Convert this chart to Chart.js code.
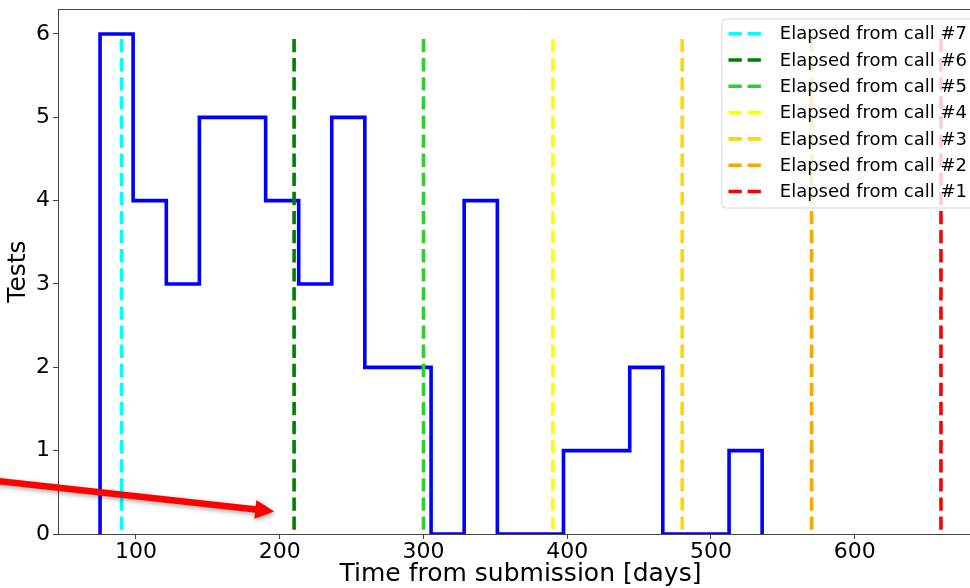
<!DOCTYPE html>
<html>
<head>
<meta charset="utf-8">
<script src="https://cdn.jsdelivr.net/npm/chart.js@4.4.0/dist/chart.umd.min.js"></script>
<style>
  html, body { margin: 0; padding: 0; background: #fff; overflow: hidden; }
  #wrap { width: 990px; height: 588px; }
</style>
</head>
<body>
<div id="wrap"><canvas id="chart" width="990" height="588"></canvas></div>
<script>
// Histogram of tests by time since submission
const binEdges = [75.0, 98.0, 121.1, 144.1, 167.1, 190.2, 213.2, 236.2, 259.2, 282.3, 305.3,
                  328.3, 351.4, 374.4, 397.4, 420.5, 443.5, 466.5, 489.5, 512.6, 535.6];
const testCounts = [6, 4, 3, 5, 5, 4, 3, 5, 2, 2, 0, 4, 0, 0, 1, 1, 2, 0, 0, 1];

// Reference lines: days elapsed since each call
const callLabels = ['Elapsed from call #7', 'Elapsed from call #6', 'Elapsed from call #5',
                    'Elapsed from call #4', 'Elapsed from call #3', 'Elapsed from call #2',
                    'Elapsed from call #1'];
const callDays = [90, 210, 300, 390, 480, 570, 660];
const callColors = ['#00ffff', '#008000', '#32cd32', '#ffff00', '#ffd700', '#ffa500', '#ff0000'];
const callLineTop = 5.94;

const xTicks = [100, 200, 300, 400, 500, 600];
const yTicks = [0, 1, 2, 3, 4, 5, 6];

// Highlight arrow, in data units
const arrowFrom = { x: 0, y: 0.643 };
const arrowTo = { x: 196.2, y: 0.271 };

const FONT = '"DejaVu Sans", "Liberation Sans", sans-serif';
const AXIS = '#444';
const LW = 3.6;
const DASH = [13.3, 5.8];

// step outline of the histogram
const outline = [{ x: binEdges[0], y: 0 }];
testCounts.forEach((c, i) => {
  outline.push({ x: binEdges[i], y: c });
  outline.push({ x: binEdges[i + 1], y: c });
});
outline.push({ x: binEdges[binEdges.length - 1], y: 0 });

const datasets = [{
  label: 'Tests',
  data: outline,
  borderColor: '#0000ff',
  borderWidth: LW,
  pointRadius: 0,
  fill: false,
  tension: 0,
  borderJoinStyle: 'miter',
  borderCapStyle: 'butt',
  order: 10
}];
callDays.forEach((d, i) => {
  datasets.push({
    label: callLabels[i],
    data: [{ x: d, y: callLineTop }, { x: d, y: 0 }],
    borderColor: callColors[i],
    borderWidth: LW,
    borderDash: DASH,
    borderCapStyle: 'butt',
    pointRadius: 0,
    fill: false,
    order: 1
  });
});

// top and right frame lines
const framePlugin = {
  id: 'frame',
  beforeDatasetsDraw(chart) {
    const { ctx, chartArea: a } = chart;
    ctx.save();
    ctx.strokeStyle = AXIS;
    ctx.lineWidth = 1;
    ctx.beginPath();
    ctx.moveTo(a.left, Math.round(a.top) + 0.5);
    ctx.lineTo(a.right, Math.round(a.top) + 0.5);
    ctx.lineTo(a.right, a.bottom);
    ctx.stroke();
    ctx.restore();
  }
};

// legend box in the upper right of the plot
const legendPlugin = {
  id: 'callLegend',
  afterDatasetsDraw(chart) {
    const { ctx, chartArea: a } = chart;
    ctx.save();
    ctx.font = '18px ' + FONT;
    let tw = 0;
    callLabels.forEach(t => { tw = Math.max(tw, ctx.measureText(t).width); });
    const rowH = 26.3;
    const boxW = 58 + tw + 9;
    const boxH = 189;
    const right = a.right - 7;
    const left = right - boxW;
    const top = a.top + 10;
    const r = 4;
    ctx.beginPath();
    ctx.moveTo(left + r, top);
    ctx.lineTo(right - r, top);
    ctx.arcTo(right, top, right, top + r, r);
    ctx.lineTo(right, top + boxH - r);
    ctx.arcTo(right, top + boxH, right - r, top + boxH, r);
    ctx.lineTo(left + r, top + boxH);
    ctx.arcTo(left, top + boxH, left, top + boxH - r, r);
    ctx.lineTo(left, top + r);
    ctx.arcTo(left, top, left + r, top, r);
    ctx.closePath();
    ctx.fillStyle = 'rgba(255,255,255,0.8)';
    ctx.fill();
    ctx.strokeStyle = 'rgba(204,204,204,0.8)';
    ctx.lineWidth = 1;
    ctx.stroke();

    ctx.textBaseline = 'middle';
    ctx.textAlign = 'left';
    callLabels.forEach((t, i) => {
      const y = top + 14.7 + i * rowH;
      ctx.strokeStyle = callColors[i];
      ctx.lineWidth = LW;
      ctx.setLineDash(DASH);
      ctx.lineCap = 'butt';
      ctx.beginPath();
      ctx.moveTo(left + 6.7, y);
      ctx.lineTo(left + 39.4, y);
      ctx.stroke();
      ctx.setLineDash([]);
      ctx.fillStyle = '#000';
      ctx.fillText(t, left + 58, y + 1);
    });
    ctx.restore();
  }
};

// red pointer arrow
const arrowPlugin = {
  id: 'arrow',
  afterDraw(chart) {
    const { ctx } = chart;
    const xs = chart.scales.x, ys = chart.scales.y;
    const x0 = xs.getPixelForValue(arrowFrom.x), y0 = ys.getPixelForValue(arrowFrom.y);
    const x1 = xs.getPixelForValue(arrowTo.x), y1 = ys.getPixelForValue(arrowTo.y);
    const ang = Math.atan2(y1 - y0, x1 - x0);
    const headLen = 19, headHalf = 9.5, shaft = 6.5;
    const bx = x1 - headLen * Math.cos(ang), by = y1 - headLen * Math.sin(ang);
    ctx.save();
    ctx.shadowColor = 'rgba(0,0,0,0.35)';
    ctx.shadowBlur = 5;
    ctx.shadowOffsetX = 1;
    ctx.shadowOffsetY = 2;
    ctx.fillStyle = '#ff0000';
    ctx.strokeStyle = '#ff0000';
    ctx.lineWidth = shaft;
    ctx.lineCap = 'butt';
    ctx.beginPath();
    ctx.moveTo(x0, y0);
    ctx.lineTo(bx + 1 * Math.cos(ang), by + 1 * Math.sin(ang));
    ctx.stroke();
    ctx.beginPath();
    ctx.moveTo(x1, y1);
    ctx.lineTo(bx - headHalf * Math.sin(ang), by + headHalf * Math.cos(ang));
    ctx.lineTo(bx + headHalf * Math.sin(ang), by - headHalf * Math.cos(ang));
    ctx.closePath();
    ctx.fill();
    ctx.restore();
  }
};

new Chart(document.getElementById('chart'), {
  type: 'line',
  data: { datasets },
  options: {
    responsive: false,
    animation: false,
    devicePixelRatio: 1,
    layout: { padding: { top: 9, right: 7, bottom: 0, left: 0 } },
    plugins: { legend: { display: false }, tooltip: { enabled: false } },
    scales: {
      x: {
        type: 'linear',
        min: 45.75,
        max: 689.25,
        afterBuildTicks: s => { s.ticks = xTicks.map(v => ({ value: v })); },
        afterFit: s => { s.height = 54; s.paddingLeft = 0; s.paddingRight = 0; },
        grid: { drawOnChartArea: false, drawTicks: true, tickLength: 5, color: AXIS, lineWidth: 1 },
        border: { display: true, color: AXIS, width: 1 },
        ticks: { font: { family: FONT, size: 22 }, color: '#000', padding: 0, maxRotation: 0, autoSkip: false },
        title: { display: true, text: 'Time from submission [days]', color: '#000',
                 font: { family: FONT, size: 25 }, padding: { top: 0, bottom: -1 } }
      },
      y: {
        type: 'linear',
        min: 0,
        max: 6.3,
        afterBuildTicks: s => { s.ticks = yTicks.map(v => ({ value: v })); },
        afterFit: s => { s.width = 58; s.paddingTop = 0; s.paddingBottom = 0; },
        grid: { drawOnChartArea: false, drawTicks: true, tickLength: 5, color: AXIS, lineWidth: 1 },
        border: { display: true, color: AXIS, width: 1 },
        ticks: { font: { family: FONT, size: 22 }, color: '#000', padding: 3 },
        title: { display: true, text: 'Tests', color: '#000',
                 font: { family: FONT, size: 25 }, padding: { top: 3, bottom: 0 } }
      }
    }
  },
  plugins: [framePlugin, legendPlugin, arrowPlugin]
});
</script>
</body>
</html>
